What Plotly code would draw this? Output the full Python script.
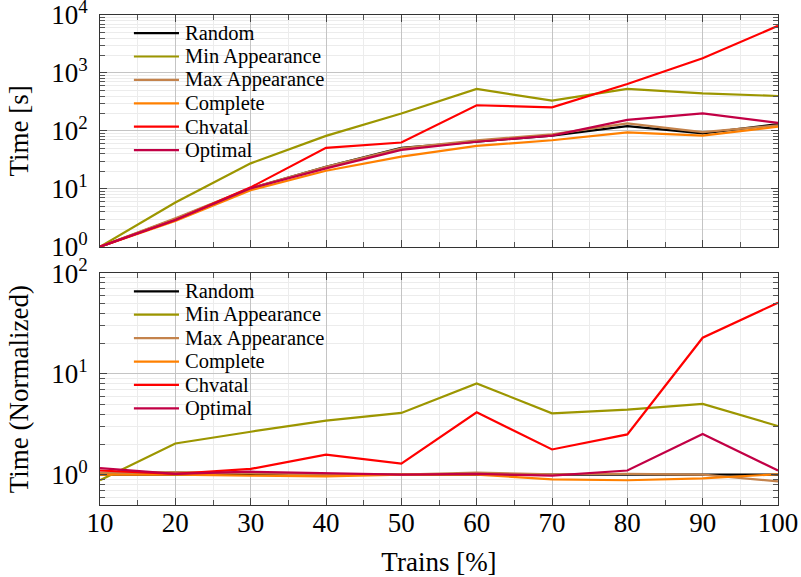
import plotly.graph_objects as go

trains = [10, 20, 30, 40, 50, 60, 70, 80, 90, 100]
series_names = ["Random", "Min Appearance", "Max Appearance", "Complete", "Chvatal", "Optimal"]
series_colors = ["#000000", "#9c9600", "#c4834c", "#ff8000", "#ff0000", "#c20045"]

time_random = [1, 3.0, 10.2, 24, 51, 65, 83, 121, 91, 131]
time_min_app = [1, 5.8, 27.5, 82, 200, 530, 332, 530, 445, 400]
time_max_app = [1, 3.1, 10.3, 24, 50, 69, 87, 135, 95, 125]
time_complete = [1, 2.8, 9.5, 20.5, 36, 55, 69, 94, 83, 118]
time_chvatal = [1, 2.9, 10.6, 51, 63, 277, 255, 646, 1790, 6500]
time_optimal = [1, 2.9, 10.2, 22.6, 47, 65, 83, 155, 201, 138]

norm_random = [1, 1, 1, 1, 1, 1, 1, 1, 1, 1]
norm_min_app = [0.88, 2.04, 2.67, 3.44, 4.1, 8.05, 4.07, 4.43, 5.05, 3.04]
norm_max_app = [1.05, 1.06, 1.04, 1.0, 1.0, 1.05, 1.01, 1.02, 1.0, 0.86]
norm_complete = [1.0, 1.0, 0.98, 0.96, 1.0, 1.0, 0.9, 0.88, 0.92, 1.01]
norm_chvatal = [1.1, 1.02, 1.14, 1.58, 1.29, 4.17, 1.78, 2.51, 22.9, 51]
norm_optimal = [1.16, 1.02, 1.07, 1.04, 1.0, 1.02, 0.98, 1.1, 2.53, 1.1]

top_ticks = [1, 10, 100, 1000, 10000]
top_ticktext = ["10<sup>0</sup>", "10<sup>1</sup>", "10<sup>2</sup>", "10<sup>3</sup>", "10<sup>4</sup>"]
bot_ticks = [1, 10, 100]
bot_ticktext = ["10<sup>0</sup>", "10<sup>1</sup>", "10<sup>2</sup>"]
x_ticks = [10, 20, 30, 40, 50, 60, 70, 80, 90, 100]

top_data = [time_random, time_min_app, time_max_app, time_complete, time_chvatal, time_optimal]
bot_data = [norm_random, norm_min_app, norm_max_app, norm_complete, norm_chvatal, norm_optimal]

FONT = "Liberation Serif"
fig = go.Figure()
for name, color, ys in zip(series_names, series_colors, top_data):
    fig.add_trace(go.Scatter(x=trains, y=ys, mode="lines", name=name,
                             line=dict(color=color, width=2.2),
                             xaxis="x", yaxis="y", showlegend=False))
for name, color, ys in zip(series_names, series_colors, bot_data):
    fig.add_trace(go.Scatter(x=trains, y=ys, mode="lines", name=name,
                             line=dict(color=color, width=2.2),
                             xaxis="x2", yaxis="y2", showlegend=False))

# Legends drawn inside each panel (transparent, no frame)
shapes = []
annotations = []
for xa, ya in (("x", "y"), ("x2", "y2")):
    for i, (name, color) in enumerate(zip(series_names, series_colors)):
        yf = 0.922 - i * 0.101
        shapes.append(dict(type="line", xref=f"{xa} domain", yref=f"{ya} domain",
                           x0=0.050, x1=0.1165, y0=yf, y1=yf,
                           line=dict(color=color, width=2.2), layer="above"))
        annotations.append(dict(text=name, xref=f"{xa} domain", yref=f"{ya} domain",
                                x=0.123, y=yf, xanchor="left", yanchor="middle",
                                showarrow=False,
                                font=dict(family=FONT, size=20.5, color="black")))

axis_common = dict(showline=True, mirror="ticks", linecolor="#333333", linewidth=1,
                   ticks="inside", tickcolor="#444444", ticklen=7, automargin=False,
                   showgrid=True, gridcolor="#c4c4c4", gridwidth=1, ticklabeloverflow="allow",
                   zeroline=False, tickfont=dict(family=FONT, size=27, color="black"))

xaxis_base = dict(axis_common, range=[10, 100], tickvals=x_ticks,
                  minor=dict(dtick=5, tick0=0, ticks="inside", ticklen=5, tickcolor="#555555",
                             showgrid=True, gridcolor="#ececec"))

fig.update_layout(
    width=801, height=577,
    margin=dict(l=100, r=23, t=15, b=72),
    paper_bgcolor="white", plot_bgcolor="white",
    font=dict(family=FONT, color="black"),
    showlegend=False,
    shapes=shapes,
    annotations=annotations,
    xaxis=dict(xaxis_base, anchor="y", domain=[0, 1], showticklabels=False, matches="x2"),
    xaxis2=dict(xaxis_base, anchor="y2", domain=[0, 1], ticklabelstandoff=-6,
                title=dict(text="Trains [%]", font=dict(family=FONT, size=27, color="black"), standoff=16)),
    yaxis=dict(axis_common, type="log", anchor="x", domain=[0.527, 1],
               range=[0, 4.0005], tickvals=top_ticks, ticktext=top_ticktext, ticklabelstandoff=6,
               minor=dict(dtick="D1", ticks="inside", ticklen=5, tickcolor="#555555",
                          showgrid=True, gridcolor="#ececec"),
               title=dict(text="Time [s]", font=dict(family=FONT, size=27, color="black"), standoff=14)),
    yaxis2=dict(axis_common, type="log", anchor="x2", domain=[0, 0.473],
                range=[-0.30103, 2], tickvals=bot_ticks, ticktext=bot_ticktext, ticklabelstandoff=6,
                minor=dict(dtick="D1", ticks="inside", ticklen=5, tickcolor="#555555",
                           showgrid=True, gridcolor="#ececec"),
                title=dict(text="Time (Normalized)", font=dict(family=FONT, size=27, color="black"), standoff=14)),
)

fig.write_html("out.html", config={"displayModeBar": False},
               post_script="document.body.style.margin='0';document.body.style.overflow='hidden';")
